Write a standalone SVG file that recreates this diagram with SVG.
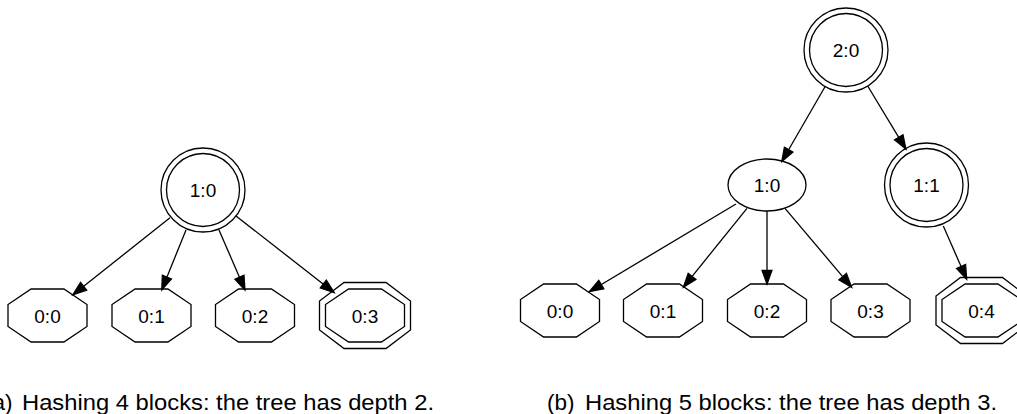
<svg xmlns="http://www.w3.org/2000/svg" xmlns:xlink="http://www.w3.org/1999/xlink" width="1017" height="414" viewBox="0 0 1017 414">
<style>
  .shape { fill: none; stroke: #000; stroke-width: 1.3; }
  .lbl { font-family: "Liberation Sans", Arial, sans-serif; font-size: 19px; text-anchor: middle; fill: #000; }
  .cap { font-family: "Liberation Sans", Arial, sans-serif; font-size: 22.5px; fill: #000; }
  .edge { fill: none; stroke: #000; stroke-width: 1.3; marker-end: url(#arrow); }
</style>
<defs>
  <marker id="arrow" markerUnits="userSpaceOnUse" markerWidth="16" markerHeight="12" refX="14" refY="5" orient="auto" overflow="visible">
    <path d="M0,0 L14,5 L0,10 z" fill="#000" stroke="#000" stroke-width="1.2"/>
  </marker>
  <polygon id="oct" class="shape" points="-16.4,-26.5 16.4,-26.5 39.5,-11 39.5,11 16.4,26.5 -16.4,26.5 -39.5,11 -39.5,-11"/>
  <polygon id="octOuter" class="shape" points="-21,-33 21,-33 45.5,-14.5 45.5,14.5 21,33 -21,33 -45.5,14.5 -45.5,-14.5"/>
</defs>
<rect width="1017" height="414" fill="#fff"/>

<!-- Tree (a) -->
<g id="edges-a">
  <line class="edge" x1="170" y1="217.7" x2="72.7" y2="295"/>
  <line class="edge" x1="186" y1="230" x2="161.7" y2="290"/>
  <line class="edge" x1="219" y1="230" x2="245" y2="290"/>
  <line class="edge" x1="236" y1="216" x2="334.3" y2="292.7"/>
</g>
<g id="a-1-0">
  <circle class="shape" cx="203" cy="190" r="42"/>
  <circle class="shape" cx="203" cy="190" r="36.5"/>
  <text class="lbl" x="203" y="197">1:0</text>
</g>
<g id="a-0-0">
  <use xlink:href="#oct" x="47.5" y="315.5"/>
  <text class="lbl" x="47.5" y="322.5">0:0</text>
</g>
<g id="a-0-1">
  <use xlink:href="#oct" x="151.5" y="315.5"/>
  <text class="lbl" x="151.5" y="322.5">0:1</text>
</g>
<g id="a-0-2">
  <use xlink:href="#oct" x="255" y="315.5"/>
  <text class="lbl" x="255" y="322.5">0:2</text>
</g>
<g id="a-0-3">
  <use xlink:href="#octOuter" x="365" y="315.5"/>
  <use xlink:href="#oct" x="365" y="315.5"/>
  <text class="lbl" x="365" y="322.5">0:3</text>
</g>
<g id="caption-a">
  <text class="cap" x="-15" y="410">(a)</text>
  <text class="cap" x="22" y="410" textLength="412" lengthAdjust="spacingAndGlyphs">Hashing 4 blocks: the tree has depth 2.</text>
</g>

<!-- Tree (b) -->
<g id="edges-b">
  <line class="edge" x1="825" y1="86.7" x2="781.7" y2="161.7"/>
  <line class="edge" x1="867.7" y1="86" x2="906" y2="149.3"/>
  <line class="edge" x1="736" y1="204" x2="589.3" y2="291.7"/>
  <line class="edge" x1="747" y1="208.3" x2="683.3" y2="287.3"/>
  <line class="edge" x1="767" y1="211" x2="767" y2="284.3"/>
  <line class="edge" x1="785" y1="208.3" x2="851.7" y2="287.3"/>
  <line class="edge" x1="943.3" y1="226" x2="966.7" y2="279.3"/>
</g>
<g id="b-2-0">
  <circle class="shape" cx="846" cy="50" r="42"/>
  <circle class="shape" cx="846" cy="50" r="36.5"/>
  <text class="lbl" x="846" y="57">2:0</text>
</g>
<g id="b-1-0">
  <ellipse class="shape" cx="767" cy="185" rx="39" ry="26"/>
  <text class="lbl" x="767" y="192">1:0</text>
</g>
<g id="b-1-1">
  <circle class="shape" cx="926.5" cy="185" r="42"/>
  <circle class="shape" cx="926.5" cy="185" r="36.5"/>
  <text class="lbl" x="926.5" y="192">1:1</text>
</g>
<g id="b-0-0">
  <use xlink:href="#oct" x="560" y="310.5"/>
  <text class="lbl" x="560" y="317.5">0:0</text>
</g>
<g id="b-0-1">
  <use xlink:href="#oct" x="663" y="310.5"/>
  <text class="lbl" x="663" y="317.5">0:1</text>
</g>
<g id="b-0-2">
  <use xlink:href="#oct" x="767" y="310.5"/>
  <text class="lbl" x="767" y="317.5">0:2</text>
</g>
<g id="b-0-3">
  <use xlink:href="#oct" x="870.5" y="310.5"/>
  <text class="lbl" x="870.5" y="317.5">0:3</text>
</g>
<g id="b-0-4">
  <use xlink:href="#octOuter" x="981.5" y="310.5"/>
  <use xlink:href="#oct" x="981.5" y="310.5"/>
  <text class="lbl" x="981.5" y="317.5">0:4</text>
</g>
<g id="caption-b">
  <text class="cap" x="547" y="410">(b)</text>
  <text class="cap" x="585" y="410" textLength="412" lengthAdjust="spacingAndGlyphs">Hashing 5 blocks: the tree has depth 3.</text>
</g>
</svg>
